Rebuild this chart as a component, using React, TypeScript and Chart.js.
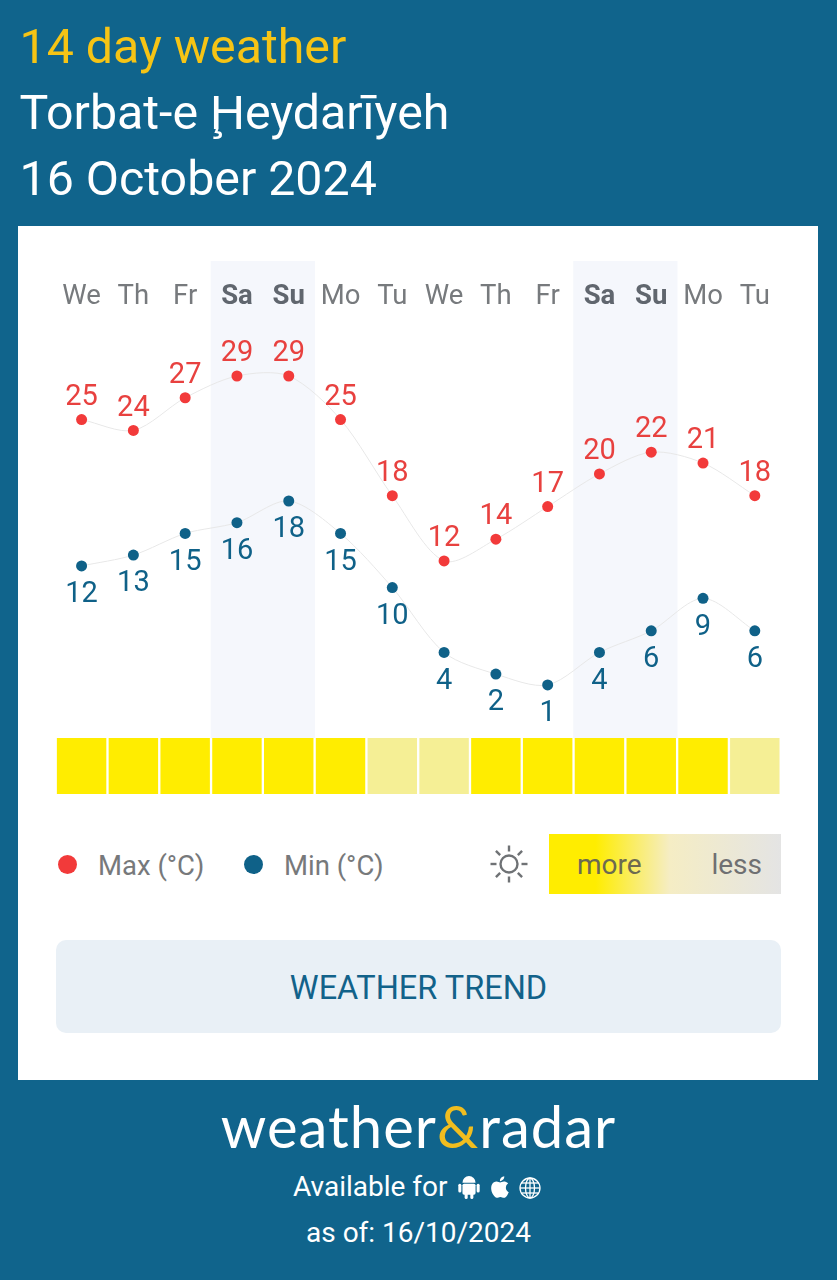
import { useEffect, useRef } from "react"
import { Chart, registerables } from "chart.js"

Chart.register(...registerables)

const days = ["We", "Th", "Fr", "Sa", "Su", "Mo", "Tu", "We", "Th", "Fr", "Sa", "Su", "Mo", "Tu"]
const maxTemps = [25, 24, 27, 29, 29, 25, 18, 12, 14, 17, 20, 22, 21, 18]
const minTemps = [12, 13, 15, 16, 18, 15, 10, 4, 2, 1, 4, 6, 9, 6]
// 1 = more sunshine, 0 = less
const sunshine = [1, 1, 1, 1, 1, 1, 0, 0, 1, 1, 1, 1, 1, 0]

const RED = "#f23a3a"
const RED_TEXT = "#e8413f"
const BLUE = "#0f6188"
const FONT = "Roboto, sans-serif"
const SUN_TOP = 56 / 533

const isWeekend = (d: string) => d === "Sa" || d === "Su"

// writes the temperature above the max points and below the min points
const valueLabels = {
  id: "valueLabels",
  afterDatasetsDraw(chart: any) {
    const ctx = chart.ctx
    ctx.save()
    ctx.font = `29px ${FONT}`
    ctx.textAlign = "center"
    ctx.textBaseline = "middle"
    chart.data.datasets.forEach((ds: any, i: number) => {
      if (ds.type !== "line") return
      chart.getDatasetMeta(i).data.forEach((pt: any, j: number) => {
        ctx.fillStyle = ds.labelColor
        ctx.fillText(String(ds.data[j]), pt.x, pt.y + ds.labelShift)
      })
    })
    ctx.restore()
  },
}

function WeatherChart() {
  const chartRef = useRef<HTMLCanvasElement>(null)

  useEffect(() => {
    if (!chartRef.current) return
    const chart = new Chart(chartRef.current, {
      type: "bar",
      plugins: [valueLabels],
      data: {
        labels: days,
        datasets: [
          {
            type: "line",
            data: maxTemps,
            yAxisID: "yMax",
            borderColor: "#e8e8e8",
            borderWidth: 1,
            tension: 0.3,
            pointRadius: 5.5,
            pointBorderWidth: 0,
            pointBackgroundColor: RED,
            labelColor: RED_TEXT,
            labelShift: -22,
            order: 1,
          },
          {
            type: "line",
            data: minTemps,
            yAxisID: "yMin",
            borderColor: "#e8e8e8",
            borderWidth: 1,
            tension: 0.3,
            pointRadius: 5.5,
            pointBorderWidth: 0,
            pointBackgroundColor: BLUE,
            labelColor: BLUE,
            labelShift: 29,
            order: 1,
          },
          {
            // weekend shading
            type: "bar",
            data: days.map((d) => (isWeekend(d) ? [SUN_TOP, 1] : null)),
            yAxisID: "yTrack",
            backgroundColor: "#f5f7fc",
            grouped: false,
            categoryPercentage: 1,
            barPercentage: 1,
            order: 3,
          },
          {
            // sunshine strip
            type: "bar",
            data: sunshine.map(() => [0, SUN_TOP]),
            yAxisID: "yTrack",
            backgroundColor: sunshine.map((s) => (s ? "#ffed00" : "#f5ef95")),
            grouped: false,
            categoryPercentage: 1,
            barPercentage: 0.955,
            order: 2,
          },
        ],
      } as any,
      options: {
        responsive: false,
        animation: false,
        layout: { padding: { left: 37.7, right: 37.3, top: 35, bottom: 12 } },
        plugins: { legend: { display: false }, tooltip: { enabled: false } },
        scales: {
          x: {
            position: "top",
            offset: true,
            grid: { display: false, drawTicks: false },
            border: { display: false },
            // labels sit inside the plot, over the weekend shading
            afterFit: (scale: any) => {
              scale.height = 0
            },
            ticks: {
              z: 1,
              mirror: true,
              padding: 20,
              autoSkip: false,
              maxRotation: 0,
              font: (c: any) => ({
                family: FONT,
                size: 27.5,
                weight: isWeekend(days[c.index]) ? "bold" : "normal",
              }),
              color: (c: any) => (isWeekend(days[c.index]) ? "#60666e" : "#777a7d"),
            },
          },
          yMax: { display: false, min: -9.42, max: 39.57 },
          yMin: { display: false, min: -9.08, max: 40.18 },
          yTrack: { display: false, min: 0, max: 1 },
        },
      } as any,
    })
    return () => chart.destroy()
  }, [])

  return <canvas ref={chartRef} width={800} height={580} style={{ position: "absolute", left: 18, top: 226 }} />
}

function Text({ x, y, size, color, children, right }: any) {
  // y is the vertical centre of the line
  const style: any = {
    position: "absolute",
    top: y - size,
    height: size * 2,
    lineHeight: `${size * 2}px`,
    fontSize: size,
    color,
    whiteSpace: "nowrap",
  }
  if (right !== undefined) style.right = right
  else style.left = x
  return <div style={style}>{children}</div>
}

function Dot({ x, y, color }: any) {
  return (
    <div style={{ position: "absolute", left: x - 9.5, top: y - 9.5, width: 19, height: 19, borderRadius: "50%", background: color }} />
  )
}

function SunIcon() {
  const rays = [0, 45, 90, 135, 180, 225, 270, 315]
  return (
    <svg width="40" height="40" viewBox="-20 -20 40 40" style={{ position: "absolute", left: 489, top: 844 }}>
      <circle r="8.5" fill="none" stroke="#6f7275" strokeWidth="2.4" />
      {rays.map((r) => (
        <line key={r} x1="0" y1="-12.5" x2="0" y2="-18.5" stroke="#6f7275" strokeWidth="2.4" transform={`rotate(${r})`} />
      ))}
    </svg>
  )
}

function AndroidIcon() {
  return (
    <svg width="24" height="24" viewBox="2 1 20 22" style={{ position: "absolute", left: 457, top: 1175 }} fill="#fff">
      <path d="M6 8a6 6 0 0 1 12 0z" />
      <rect x="6" y="9" width="12" height="10" rx="1.5" />
      <rect x="2.2" y="9" width="2.8" height="8" rx="1.4" />
      <rect x="19" y="9" width="2.8" height="8" rx="1.4" />
      <rect x="8" y="17" width="2.8" height="6" rx="1.4" />
      <rect x="13.2" y="17" width="2.8" height="6" rx="1.4" />
    </svg>
  )
}

function AppleIcon() {
  return (
    <svg width="26" height="26" viewBox="0 0 24 24" style={{ position: "absolute", left: 487, top: 1174 }} fill="#fff">
      <path d="M18.71 19.5c-.83 1.24-1.71 2.45-3.05 2.47-1.34.03-1.77-.79-3.29-.79-1.53 0-2 .77-3.27.82-1.31.05-2.3-1.32-3.14-2.53C4.25 17 2.94 12.45 4.7 9.39c.87-1.52 2.43-2.48 4.12-2.51 1.28-.02 2.5.87 3.29.87.78 0 2.26-1.07 3.81-.91.65.03 2.47.26 3.64 1.98-.09.06-2.17 1.28-2.15 3.81.03 3.02 2.65 4.03 2.68 4.04-.03.07-.42 1.44-1.38 2.83M13 3.5c.73-.83 1.94-1.46 2.94-1.5.13 1.17-.34 2.35-1.04 3.19-.69.85-1.83 1.51-2.95 1.42-.15-1.15.41-2.35 1.05-3.11z" />
    </svg>
  )
}

function GlobeIcon() {
  return (
    <svg width="24" height="24" viewBox="0 0 24 24" style={{ position: "absolute", left: 518, top: 1176 }} fill="none" stroke="#fff" strokeWidth="1.3">
      <circle cx="12" cy="12" r="10" />
      <ellipse cx="12" cy="12" rx="4.5" ry="10" />
      <line x1="12" y1="2" x2="12" y2="22" />
      <line x1="2" y1="12" x2="22" y2="12" />
      <line x1="3.4" y1="7" x2="20.6" y2="7" />
      <line x1="3.4" y1="17" x2="20.6" y2="17" />
    </svg>
  )
}

export default function App() {
  return (
    <div style={{ position: "absolute", left: 0, top: 0, width: 837, height: 1280, overflow: "hidden", background: "#10648c", fontFamily: FONT }}>
      <Text x={19.5} y={47} size={48.3} color="#f6c415">14 day weather</Text>
      <Text x={19.5} y={113} size={48.3} color="#fff">Torbat-e Ḩeydarīyeh</Text>
      <Text x={19.5} y={179} size={48.3} color="#fff">16 October 2024</Text>

      <div style={{ position: "absolute", left: 18, top: 226, width: 800, height: 854, background: "#fff" }} />
      <WeatherChart />

      <Dot x={67} y={864} color={RED} />
      <Text x={98} y={865} size={27.5} color="#77797b">Max (°C)</Text>
      <Dot x={253} y={864} color={BLUE} />
      <Text x={284} y={865} size={27.5} color="#77797b">Min (°C)</Text>
      <SunIcon />
      <div style={{ position: "absolute", left: 549, top: 834, width: 232, height: 60, background: "linear-gradient(90deg, #ffed00 0%, #ffed00 20%, #f5edc4 52%, #e4e4e4 100%)" }} />
      <Text x={577} y={865} size={28} color="#6c6a50">more</Text>
      <Text right={837 - 762} y={865} size={28} color="#6f7072">less</Text>

      <div style={{ position: "absolute", left: 56, top: 940, width: 725, height: 93, borderRadius: 10, background: "#e9f0f6" }} />
      <div style={{ position: "absolute", left: 56, top: 941, width: 725, height: 95, lineHeight: "95px", textAlign: "center", fontSize: 32.5, color: "#12628a" }}>WEATHER TREND</div>

      <div style={{ position: "absolute", left: 0, top: 1088, width: 837, height: 76, lineHeight: "76px", textAlign: "center", fontFamily: "Lato, sans-serif", fontSize: 58, letterSpacing: 1, color: "#fff" }}>
        weather<span style={{ color: "#f0bd1f" }}>&amp;</span>radar
      </div>
      <div style={{ position: "absolute", left: 293, top: 1167, lineHeight: "40px", fontSize: 28, color: "#fff" }}>Available for</div>
      <AndroidIcon />
      <AppleIcon />
      <GlobeIcon />
      <div style={{ position: "absolute", left: 306, top: 1213, lineHeight: "40px", fontSize: 28, color: "#fff" }}>as of: 16/10/2024</div>
    </div>
  )
}
